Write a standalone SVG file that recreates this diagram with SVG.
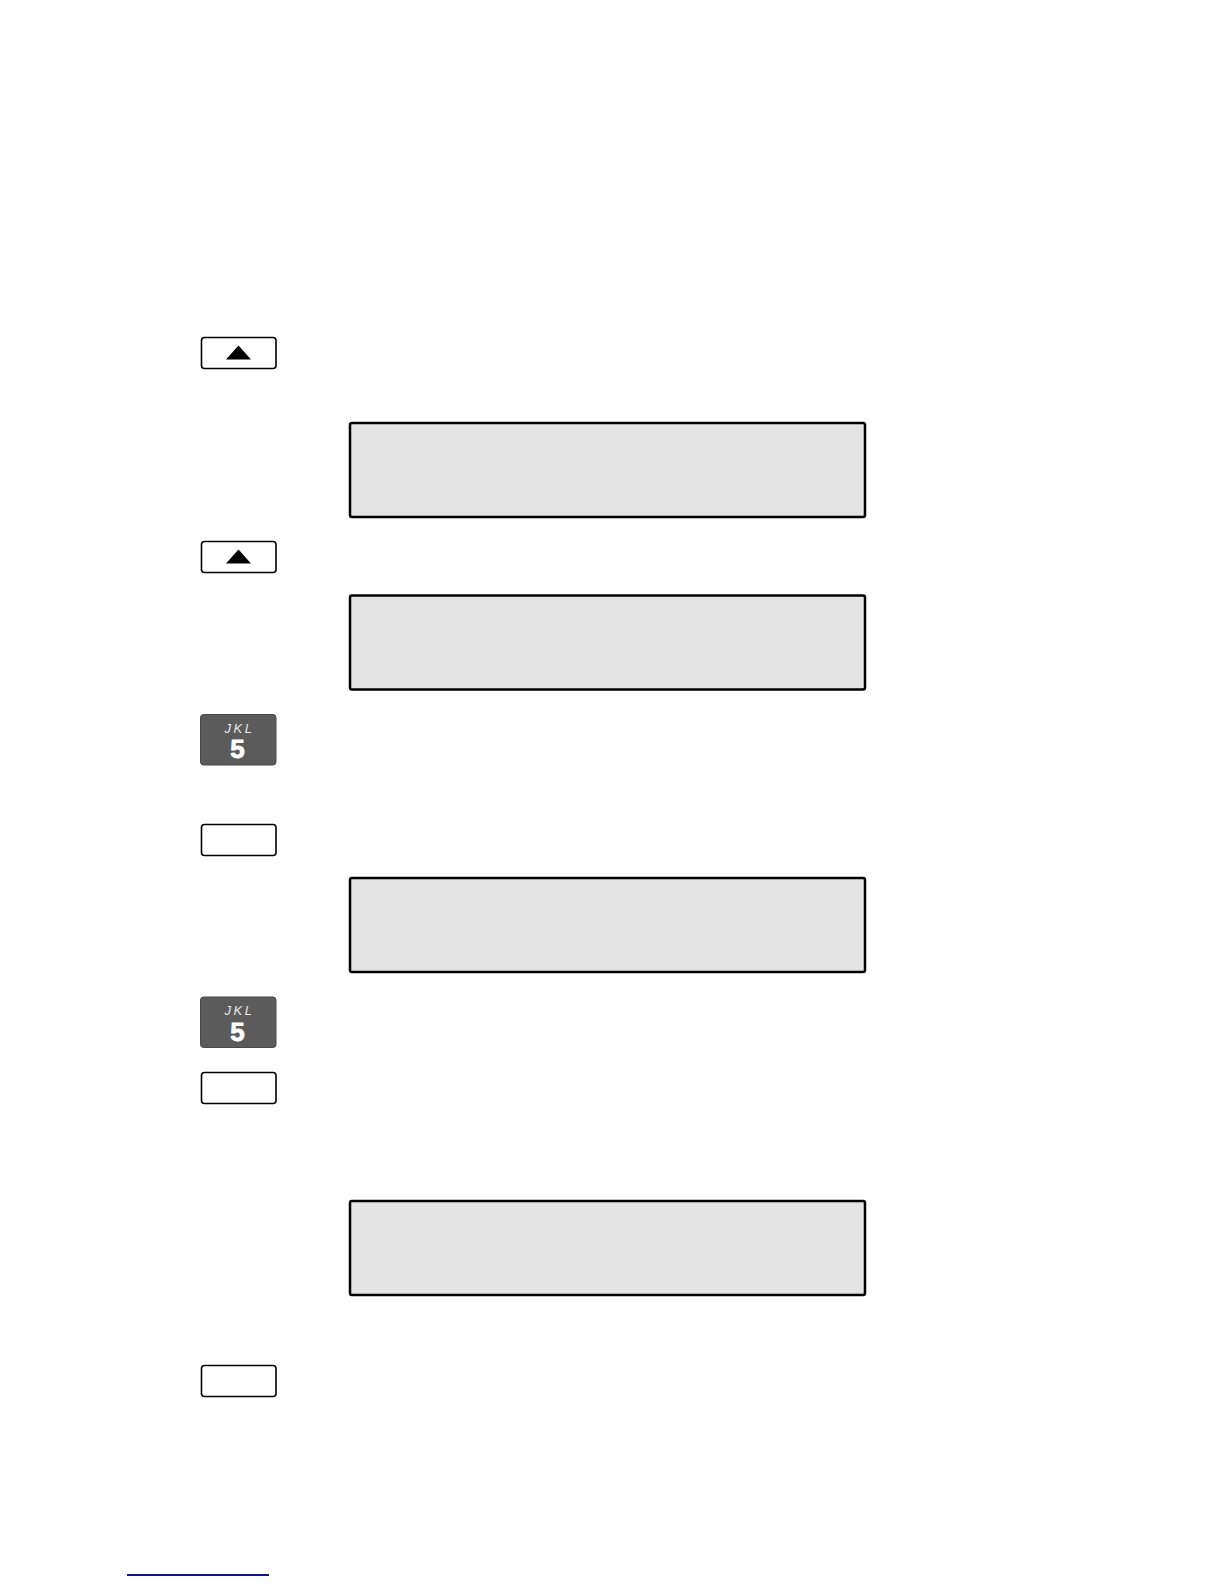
<svg xmlns="http://www.w3.org/2000/svg" width="1224" height="1584" viewBox="0 0 1224 1584">
<style>
.key{fill:#ffffff;stroke:#000000;stroke-width:1.6}
.dkey{fill:#5b5b5b;stroke:#4a4a4a;stroke-width:1}
.disp{fill:#e3e3e3;stroke:#000000;stroke-width:2.5}
.tri{fill:#000000}
.jkl{font-family:"Liberation Sans",Arial,sans-serif;font-style:italic;font-size:13px;fill:#e8e8e8;letter-spacing:2.5px}
.five{font-family:"Liberation Sans",Arial,sans-serif;font-weight:bold;font-size:26px;fill:#ffffff;stroke:#ffffff;stroke-width:0.8}
</style>
<rect x="0" y="0" width="1224" height="1584" fill="#ffffff"/>
<g id="key-up-1">
<rect class="key" x="201.5" y="337.5" width="74.5" height="31" rx="3"/>
<polygon class="tri" points="238.5,345.5 251,359.5 226,359.5"/>
</g>
<g id="display-1"><rect class="disp" x="350" y="423" width="515" height="94" rx="2"/></g>
<g id="key-up-2">
<rect class="key" x="201.5" y="541.5" width="74.5" height="31" rx="3"/>
<polygon class="tri" points="238.5,549.5 251,563.5 226,563.5"/>
</g>
<g id="display-2"><rect class="disp" x="350" y="595.5" width="515" height="94" rx="2"/></g>
<g id="key-5-1">
<rect class="dkey" x="200.5" y="714.5" width="75.5" height="50.5" rx="3"/>
<text class="jkl" x="239.5" y="732.5" text-anchor="middle">JKL</text>
<text class="five" x="237.5" y="758" text-anchor="middle">5</text>
</g>
<g id="key-blank-1"><rect class="key" x="201.5" y="824.5" width="74.5" height="31" rx="3"/></g>
<g id="display-3"><rect class="disp" x="350" y="878" width="515" height="94" rx="2"/></g>
<g id="key-5-2">
<rect class="dkey" x="200.5" y="997" width="75.5" height="50.5" rx="3"/>
<text class="jkl" x="239.5" y="1015" text-anchor="middle">JKL</text>
<text class="five" x="237.5" y="1040.5" text-anchor="middle">5</text>
</g>
<g id="key-blank-2"><rect class="key" x="201.5" y="1072.5" width="74.5" height="31" rx="3"/></g>
<g id="display-4"><rect class="disp" x="350" y="1201" width="515" height="94" rx="2"/></g>
<g id="key-blank-3"><rect class="key" x="201.5" y="1365.5" width="74.5" height="31" rx="3"/></g>
<line x1="127" y1="1575" x2="269" y2="1575" stroke="#14148a" stroke-width="1.8"/>
</svg>
